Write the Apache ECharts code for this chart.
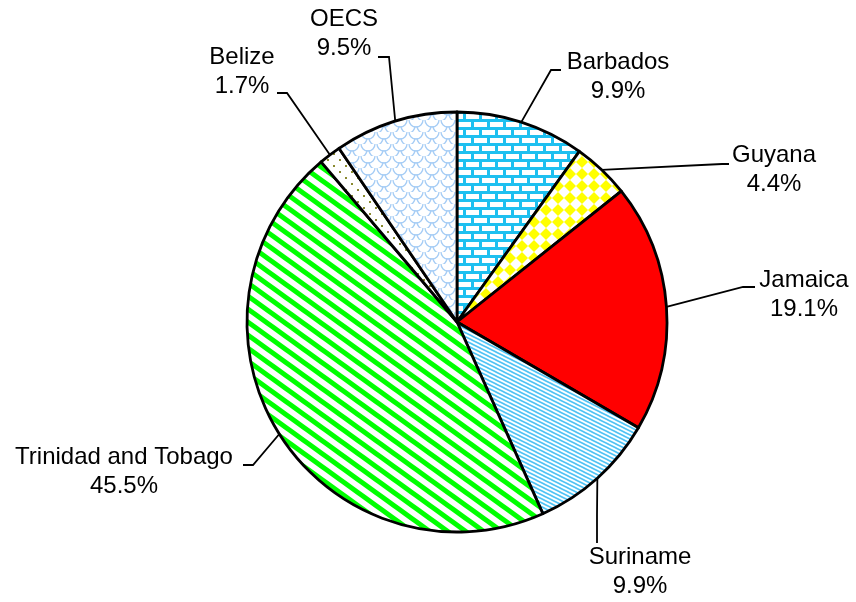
<!DOCTYPE html>
<html>
<head>
<meta charset="utf-8">
<script src="https://cdn.jsdelivr.net/npm/echarts@6/dist/echarts.min.js"></script>
<style>
  html, body { margin: 0; padding: 0; background: #fff; }
  #pie_chart { width: 856px; height: 602px; }
</style>
</head>
<body>
<div id="pie_chart"></div>
<script>
// data
var categories = ['Barbados', 'Guyana', 'Jamaica', 'Suriname', 'Trinidad and Tobago', 'Belize', 'OECS'];
var shares = [9.9, 4.4, 19.1, 9.9, 45.5, 1.7, 9.5];

// label placement (text centre) and leader line knees
var labelPos = [[618, 77], [774, 170], [804, 295], [640, 572], [124, 472], [242, 72], [344, 34]];
var labelKnee = [
    [[551, 70], [561, 70]],
    [[722, 164], [729, 164]],
    [[743, 287], [755, 287]],
    [[597, 515], [597, 543]],
    [[253, 465], [243, 465]],
    [[287, 93], [277, 93]],
    [[389, 57], [378, 57]]
];

function tile(w, h, draw) {
    var c = document.createElement('canvas');
    c.width = w; c.height = h;
    var ctx = c.getContext('2d');
    ctx.fillStyle = '#fff';
    ctx.fillRect(0, 0, w, h);
    draw(ctx, w, h);
    return { image: c, repeat: 'repeat' };
}

function stripes(ctx, w, h, color, lw) {
    ctx.strokeStyle = color;
    ctx.lineWidth = lw;
    [-h, 0, h].forEach(function (c) {
        ctx.beginPath();
        ctx.moveTo(-w, -h + c);
        ctx.lineTo(2 * w, 2 * h + c);
        ctx.stroke();
    });
}

// slice fills
var fills = [
    tile(16, 16, function (ctx) { // bricks
        ctx.fillStyle = '#1ec0f0';
        ctx.fillRect(0, 0, 16, 16);
        ctx.fillStyle = '#fff';
        ctx.fillRect(2, 2, 13, 5);
        ctx.fillRect(10, 10, 13, 5);
        ctx.fillRect(-6, 10, 13, 5);
    }),
    tile(12, 12, function (ctx) { // diamonds
        ctx.fillStyle = '#ffff00';
        ctx.beginPath();
        ctx.moveTo(6, 0); ctx.lineTo(12, 6); ctx.lineTo(6, 12); ctx.lineTo(0, 6);
        ctx.closePath();
        ctx.fill();
    }),
    '#ff0000',
    tile(8, 4, function (ctx, w, h) { stripes(ctx, w, h, '#4fc3f5', 1.6); }),
    tile(18, 13, function (ctx, w, h) { stripes(ctx, w, h, '#00ff00', 5); }),
    tile(12, 12, function (ctx) { // dots
        ctx.fillStyle = '#8a8a30';
        ctx.fillRect(3, 3, 2, 2);
        ctx.fillRect(9, 9, 2, 2);
    }),
    tile(16, 12, function (ctx) { // scales
        ctx.strokeStyle = '#a6cdf5';
        ctx.lineWidth = 1.3;
        [[0, 0], [16, 0], [8, 6], [0, 12], [16, 12]].forEach(function (p) {
            ctx.beginPath();
            ctx.arc(p[0], p[1], 7, 0, Math.PI);
            ctx.stroke();
        });
    })
];

var myChart = echarts.init(document.getElementById('pie_chart'));

var option = {
    backgroundColor: '#fff',
    animation: false,
    series: [
        {
            type: 'pie',
            center: [457, 322],
            radius: 210,
            startAngle: 90,
            clockwise: true,
            itemStyle: {
                borderColor: '#000',
                borderWidth: 2.8
            },
            label: {
                show: true,
                position: 'outside',
                formatter: function (p) { return p.name + '\n' + p.value.toFixed(1) + '%'; },
                color: '#000',
                fontFamily: 'Liberation Sans, Arial, sans-serif',
                fontSize: 24,
                lineHeight: 29,
                align: 'center'
            },
            labelLine: {
                show: true,
                length: 20,
                length2: 10,
                lineStyle: { color: '#000', width: 1.8 }
            },
            labelLayout: function (params) {
                var i = params.dataIndex;
                var k = labelKnee[i];
                var pts = params.labelLinePoints;
                var start = pts && pts[0] ? pts[0] : k[0];
                return {
                    x: labelPos[i][0],
                    y: labelPos[i][1],
                    align: 'center',
                    verticalAlign: 'middle',
                    labelLinePoints: [start, k[0], k[1]]
                };
            },
            data: categories.map(function (name, i) {
                return { name: name, value: shares[i], itemStyle: { color: fills[i] } };
            })
        }
    ]
};

myChart.setOption(option);
</script>
</body>
</html>
